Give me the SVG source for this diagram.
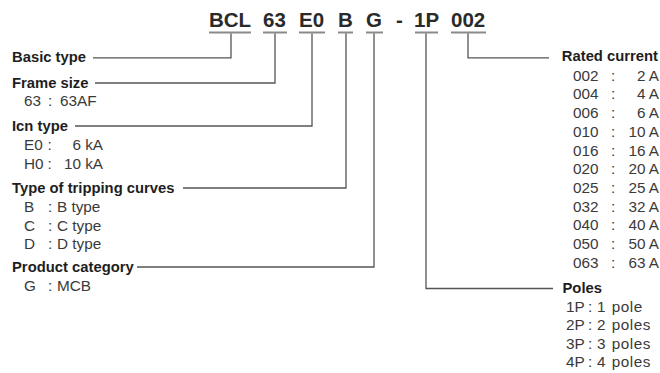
<svg xmlns="http://www.w3.org/2000/svg" width="660" height="373" viewBox="0 0 660 373">
<style>
.t{font-family:"Liberation Sans",Arial,sans-serif;font-weight:bold;font-size:20.5px;fill:#2a2a2a}
.h{font-family:"Liberation Sans",Arial,sans-serif;font-weight:bold;font-size:14.8px;fill:#1e1e1e}
.r{font-family:"Liberation Sans",Arial,sans-serif;font-size:15.3px;fill:#3a3a3a}
.p{letter-spacing:0.5px;word-spacing:1px}
.m{text-anchor:middle}
.e{text-anchor:end}
.u{stroke:#8a8a8a;stroke-width:2;fill:none}
.c{stroke:#555;stroke-width:1.3;fill:none}
</style>
<rect width="660" height="373" fill="#fff"/>
<g id="code">
<text class="t" x="209" y="26.5">BCL</text>
<text class="t" x="263" y="26.5">63</text>
<text class="t" x="299" y="26.5">E0</text>
<text class="t" x="338" y="26.5">B</text>
<text class="t" x="366" y="26.5">G</text>
<text class="t" x="396" y="26.5">-</text>
<text class="t" x="414" y="26.5">1P</text>
<text class="t" x="451" y="26.5">002</text>
<path class="u" d="M209 32.5H251M263 32.5H287M299 32.5H325M338 32.5H353M366 32.5H383M415 32.5H438M451 32.5H486"/>
</g>
<g id="connectors">
<path class="c" d="M231 33.5V57.8H93"/>
<path class="c" d="M275 33.5V83H95"/>
<path class="c" d="M312 33.5V126H75"/>
<path class="c" d="M346 33.5V188H183"/>
<path class="c" d="M374 33.5V267H137"/>
<path class="c" d="M426 33.5V288.5H553"/>
<path class="c" d="M468 33.5V57.8H549"/>
</g>
<g id="basic-type">
<text class="h" x="12" y="62.3">Basic type</text>
</g>
<g id="frame-size">
<text class="h" x="12" y="87.5">Frame size</text>
<text class="r" x="24" y="106">63</text>
<text class="r m" x="50" y="106">:</text>
<text class="r" x="60" y="106">63AF</text>
</g>
<g id="icn-type">
<text class="h" x="12" y="131">Icn type</text>
<text class="r" x="24" y="150">E0</text>
<text class="r m" x="49.5" y="150">:</text>
<text class="r e" x="103" y="150">6 kA</text>
<text class="r" x="24" y="168.5">H0</text>
<text class="r m" x="49.5" y="168.5">:</text>
<text class="r e" x="103" y="168.5">10 kA</text>
</g>
<g id="tripping-curves">
<text class="h" x="12" y="193">Type of tripping curves</text>
<text class="r" x="24" y="212">B</text>
<text class="r m" x="50" y="212">:</text>
<text class="r" x="57" y="212">B type</text>
<text class="r" x="24" y="230.7">C</text>
<text class="r m" x="50" y="230.7">:</text>
<text class="r" x="57" y="230.7">C type</text>
<text class="r" x="24" y="249.3">D</text>
<text class="r m" x="50" y="249.3">:</text>
<text class="r" x="57" y="249.3">D type</text>
</g>
<g id="product-category">
<text class="h" x="12" y="272">Product category</text>
<text class="r" x="24" y="290.7">G</text>
<text class="r m" x="50" y="290.7">:</text>
<text class="r" x="57" y="290.7">MCB</text>
</g>
<g id="rated-current">
<text class="h e" x="658" y="60.5">Rated current</text>
<g class="r">
<text x="573" y="80.7">002</text><text class="m" x="613" y="80.7">:</text><text class="e" x="659" y="80.7">2 A</text>
<text x="573" y="99.4">004</text><text class="m" x="613" y="99.4">:</text><text class="e" x="659" y="99.4">4 A</text>
<text x="573" y="118.1">006</text><text class="m" x="613" y="118.1">:</text><text class="e" x="659" y="118.1">6 A</text>
<text x="573" y="136.8">010</text><text class="m" x="613" y="136.8">:</text><text class="e" x="659" y="136.8">10 A</text>
<text x="573" y="155.5">016</text><text class="m" x="613" y="155.5">:</text><text class="e" x="659" y="155.5">16 A</text>
<text x="573" y="174.2">020</text><text class="m" x="613" y="174.2">:</text><text class="e" x="659" y="174.2">20 A</text>
<text x="573" y="192.9">025</text><text class="m" x="613" y="192.9">:</text><text class="e" x="659" y="192.9">25 A</text>
<text x="573" y="211.6">032</text><text class="m" x="613" y="211.6">:</text><text class="e" x="659" y="211.6">32 A</text>
<text x="573" y="230.3">040</text><text class="m" x="613" y="230.3">:</text><text class="e" x="659" y="230.3">40 A</text>
<text x="573" y="249">050</text><text class="m" x="613" y="249">:</text><text class="e" x="659" y="249">50 A</text>
<text x="573" y="267.7">063</text><text class="m" x="613" y="267.7">:</text><text class="e" x="659" y="267.7">63 A</text>
</g>
</g>
<g id="poles">
<text class="h" x="562.5" y="293.3">Poles</text>
<g class="r">
<text x="566" y="311.7">1P</text><text class="m" x="590" y="311.7">:</text><text class="p" x="597" y="311.7">1 pole</text>
<text x="566" y="330.2">2P</text><text class="m" x="590" y="330.2">:</text><text class="p" x="597" y="330.2">2 poles</text>
<text x="566" y="348.7">3P</text><text class="m" x="590" y="348.7">:</text><text class="p" x="597" y="348.7">3 poles</text>
<text x="566" y="367.2">4P</text><text class="m" x="590" y="367.2">:</text><text class="p" x="597" y="367.2">4 poles</text>
</g>
</g>
</svg>
